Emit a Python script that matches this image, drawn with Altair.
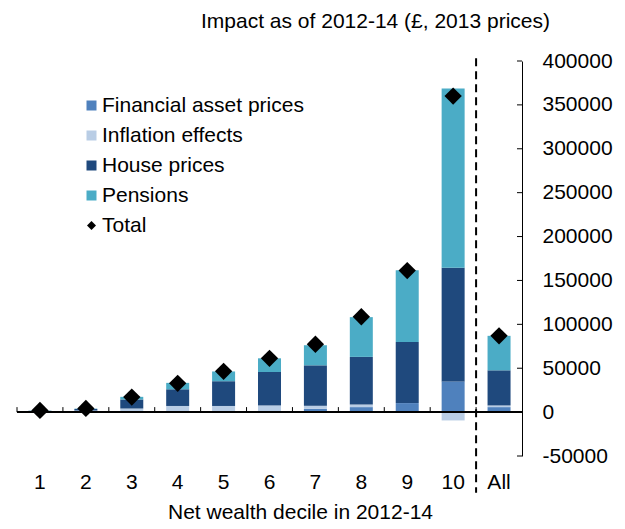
import altair as alt
import pandas as pd

categories = ["1", "2", "3", "4", "5", "6", "7", "8", "9", "10", "All"]
series_names = ["Financial asset prices", "Inflation effects", "House prices", "Pensions"]
series_colors = ["#4F81BD", "#B9CDE5", "#1F497D", "#4BACC6"]
financial = [1200, 1500, 300, 500, 700, 1100, 3800, 5700, 10300, 35000, 5700]
inflation = [0, 300, 3800, 6500, 6300, 6500, 3400, 3000, 0, -9500, 1900]
house = [300, 1800, 10300, 19000, 28200, 38100, 46100, 54200, 69700, 129600, 40000]
pensions = [200, 400, 3000, 7300, 11100, 15600, 22900, 45300, 81500, 204200, 39300]
total = [1900, 4200, 17100, 32800, 46500, 61300, 77300, 108600, 161200, 360000, 86900]
y_ticks = [-50000, 0, 50000, 100000, 150000, 200000, 250000, 300000, 350000, 400000]

FONT = "Liberation Sans"
W, H = 505, 395

rows = []
for si, (name, vals) in enumerate(zip(series_names, [financial, inflation, house, pensions])):
    for c, v in zip(categories, vals):
        rows.append({"cat": c, "series": name, "value": v, "ord": si})
bars_df = pd.DataFrame(rows)
tot_df = pd.DataFrame({"cat": categories, "total": total, "lab": ["Total"] * len(categories)})
cat_df = pd.DataFrame({"cat": categories})
yt_df = pd.DataFrame({"t": y_ticks})

xenc = alt.X("cat:N", sort=categories,
             scale=alt.Scale(domain=categories, paddingInner=0, paddingOuter=0),
             axis=alt.Axis(title="Net wealth decile in 2012-14", domain=False, ticks=False,
                           labelAngle=0, labelFontSize=21, labelPadding=26, labelBaseline="middle",
                           labelColor="black", titleFontSize=21, titleFontWeight="normal",
                           titleColor="black", titleX=283, titleY=56, titleBaseline="middle",
                           labelFont=FONT, titleFont=FONT))
yscale = alt.Scale(domain=[-50000, 400000], nice=False, zero=False)

bars = alt.Chart(bars_df).mark_bar(size=23).encode(
    x=xenc,
    y=alt.Y("value:Q", scale=yscale, stack="zero",
            axis=alt.Axis(orient="right", values=y_ticks, ticks=False, grid=False,
                          domainColor="black", domainWidth=1, labelPadding=20,
                          labelExpr="'' + datum.value", labelFontSize=21, labelColor="black",
                          labelFont=FONT, title=None)),
    color=alt.Color("series:N", scale=alt.Scale(domain=series_names, range=series_colors),
                    legend=alt.Legend(title=None, orient="none", legendX=64, legendY=34,
                                      symbolType="square", symbolSize=100, symbolStrokeWidth=0,
                                      labelFontSize=21, labelFont=FONT, labelColor="black",
                                      labelOffset=0, rowPadding=8, labelLimit=0)),
    order=alt.Order("ord:Q"),
)

zero = alt.Chart(cat_df).mark_rule(color="black", strokeWidth=1.5).encode(y=alt.datum(0))

xticks = alt.Chart(cat_df).mark_rule(color="black", strokeWidth=1).encode(
    x=alt.X("cat:N", sort=categories, bandPosition=0),
    y=alt.datum(0), y2=alt.datum(5700),
)

dashed = alt.Chart(cat_df).transform_filter(alt.datum.cat == "All").mark_rule(
    color="black", strokeWidth=2, strokeDash=[8, 5]).encode(
    x=alt.X("cat:N", sort=categories, bandPosition=0),
    y=alt.datum(403000), y2=alt.datum(-92000),
)

yticks = alt.Chart(yt_df).mark_rule(color="black", strokeWidth=1).encode(
    y=alt.Y("t:Q"), x=alt.value(W - 5), x2=alt.value(W),
)

points = alt.Chart(tot_df).mark_point(filled=True, color="black", size=300, opacity=1).encode(
    x=alt.X("cat:N", sort=categories),
    y=alt.Y("total:Q"),
    shape=alt.Shape("lab:N", scale=alt.Scale(domain=["Total"], range=["diamond"]),
                    legend=alt.Legend(title=None, orient="none", legendX=64, legendY=154,
                                      symbolFillColor="black", symbolStrokeWidth=0,
                                      symbolSize=80, labelFontSize=21, labelFont=FONT,
                                      labelColor="black", labelOffset=0, labelLimit=0)),
)

chart = alt.layer(bars, zero, xticks, dashed, yticks, points).properties(
    width=W, height=H,
    title=alt.TitleParams("Impact as of 2012-14 (£, 2013 prices)", fontSize=21,
                          fontWeight="normal", font=FONT, color="black",
                          anchor="middle", dx=106, offset=18),
    autosize=alt.AutoSizeParams(type="none"),
    padding={"left": 9, "top": 53, "right": 95, "bottom": 65},
).configure_view(stroke=None)

chart.save("out.html", embed_options={"renderer": "svg", "actions": False})
